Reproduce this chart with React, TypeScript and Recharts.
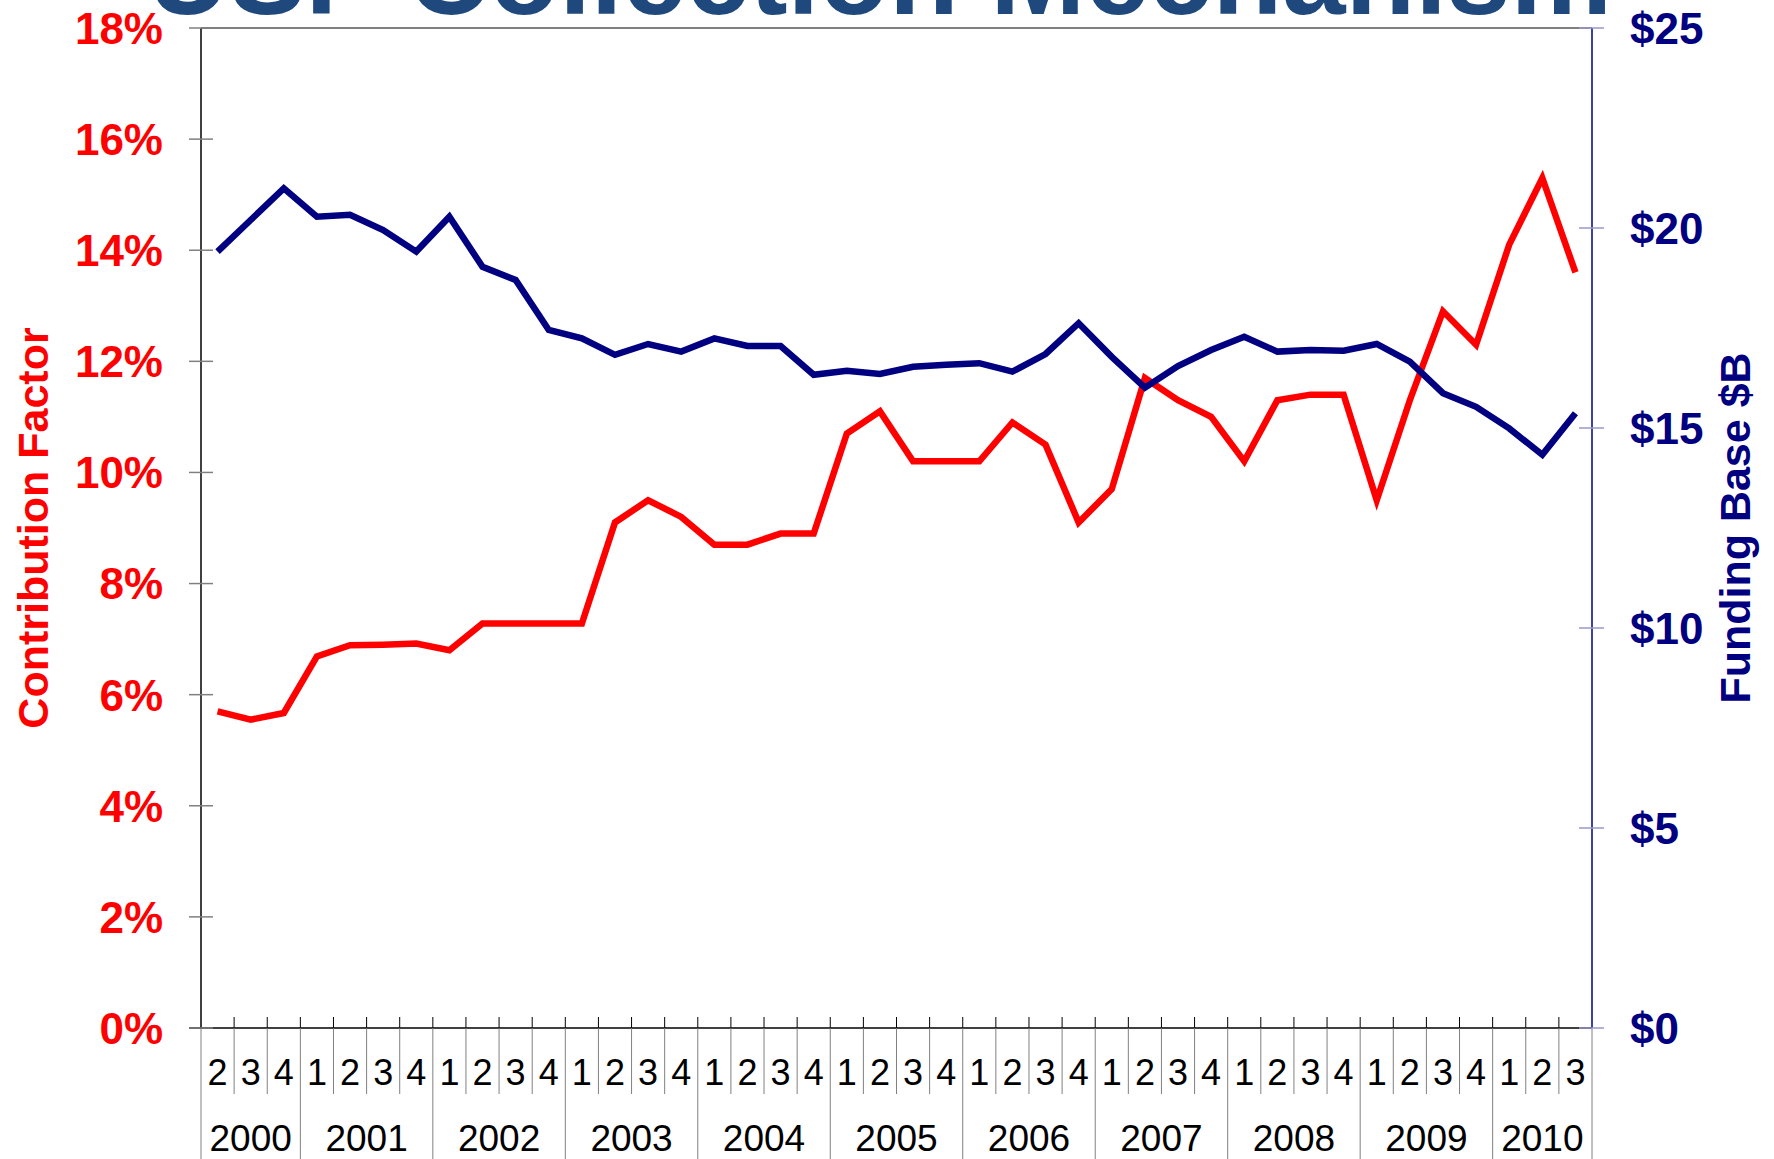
import { LineChart, Line, XAxis, YAxis, ReferenceLine } from "recharts";

const quarterLabels = [
  "2", "3", "4",
  "1", "2", "3", "4",
  "1", "2", "3", "4",
  "1", "2", "3", "4",
  "1", "2", "3", "4",
  "1", "2", "3", "4",
  "1", "2", "3", "4",
  "1", "2", "3", "4",
  "1", "2", "3", "4",
  "1", "2", "3", "4",
  "1", "2", "3",
];
const yearLabels = ["2000", "2001", "2002", "2003", "2004", "2005", "2006", "2007", "2008", "2009", "2010"];
const quartersPerYear = [3, 4, 4, 4, 4, 4, 4, 4, 4, 4, 3];

// contribution factor, %
const contributionFactor = [
  5.7, 5.55, 5.67,
  6.69, 6.89, 6.9, 6.92,
  6.8, 7.28, 7.28, 7.28,
  7.28, 9.1, 9.5, 9.2,
  8.7, 8.7, 8.9, 8.9,
  10.7, 11.1, 10.2, 10.2,
  10.2, 10.9, 10.5, 9.1,
  9.7, 11.7, 11.3, 11.0,
  10.2, 11.3, 11.4, 11.4,
  9.5, 11.3, 12.9, 12.3,
  14.1, 15.3, 13.6,
];

// funding base, $B
const fundingBase = [
  19.41, 20.2, 20.99,
  20.28, 20.33, 19.95, 19.41,
  20.28, 19.03, 18.7, 17.45,
  17.24, 16.83, 17.1, 16.91,
  17.24, 17.05, 17.05, 16.33,
  16.43, 16.35, 16.53, 16.58,
  16.62, 16.41, 16.85, 17.62,
  16.78, 16.01, 16.55, 16.95,
  17.28, 16.91, 16.95, 16.93,
  17.1, 16.66, 15.87, 15.53,
  14.99, 14.33, 15.37,
];

const leftTicks = [0, 2, 4, 6, 8, 10, 12, 14, 16, 18];
const rightTicks = [0, 5, 10, 15, 20, 25];

const W = 1774;
const H = 1159;
const PLOT_LEFT = 201;
const PLOT_RIGHT = 1592;
const PLOT_TOP = 28;
const PLOT_BOTTOM = 1028;
const BAND = (PLOT_RIGHT - PLOT_LEFT) / quarterLabels.length;
const FONT = "'Liberation Sans', Arial, sans-serif";

// index of first quarter -> year index
const yearStart: Record<number, number> = {};
let pos = 0;
quartersPerYear.forEach((n, yi) => {
  yearStart[pos] = yi;
  pos += n;
});

const data = quarterLabels.map((q, i) => ({
  key: `k${i}`,
  cf: contributionFactor[i],
  fb: fundingBase[i],
}));

function QuarterTick(props: any) {
  const { x, payload } = props;
  const i = props.index ?? payload.index;
  const y = PLOT_BOTTOM;
  const left = x - BAND / 2;
  const right = x + BAND / 2;
  const yi = yearStart[i];
  const last = i === quarterLabels.length - 1;
  return (
    <g>
      {i > 0 && <line x1={left} x2={left} y1={y - 11} y2={y} stroke="#000" />}
      {yi !== undefined ? (
        <line x1={left} x2={left} y1={y} y2={H} stroke="#808080" />
      ) : (
        <line x1={left} x2={left} y1={y} y2={y + 66} stroke="#808080" />
      )}
      {last && <line x1={right} x2={right} y1={y} y2={H} stroke="#808080" />}
      {i === 0 && <line x1={left - 12} x2={left} y1={y} y2={y} stroke="#000" strokeWidth={1.5} />}
      <text x={x} y={y + 57} textAnchor="middle" fontFamily={FONT} fontSize={36} fill="#000">
        {quarterLabels[i]}
      </text>
      {yi !== undefined && (
        <text
          x={left + (quartersPerYear[yi] * BAND) / 2}
          y={y + 123}
          textAnchor="middle"
          fontFamily={FONT}
          fontSize={37}
          fill="#000"
        >
          {yearLabels[yi]}
        </text>
      )}
    </g>
  );
}

function LeftTick(props: any) {
  const { y, payload } = props;
  return (
    <g>
      <line x1={PLOT_LEFT - 12} x2={PLOT_LEFT + 12} y1={y} y2={y} stroke="#808080" strokeWidth={1.5} />
      <text x={PLOT_LEFT - 38} y={y} dy="0.36em" textAnchor="end" fontFamily={FONT} fontWeight="bold" fontSize={44} fill="#FF0000">
        {`${payload.value}%`}
      </text>
    </g>
  );
}

function RightTick(props: any) {
  const { y, payload } = props;
  return (
    <g>
      <line x1={PLOT_RIGHT - 13} x2={PLOT_RIGHT + 12} y1={y} y2={y} stroke="#9999CC" strokeWidth={1.5} />
      <text x={PLOT_RIGHT + 38} y={y} dy="0.36em" textAnchor="start" fontFamily={FONT} fontWeight="bold" fontSize={44} fill="#000080">
        {`$${payload.value}`}
      </text>
    </g>
  );
}

export default function App() {
  return (
    <div style={{ position: "fixed", left: 0, top: 0, width: W, height: H, background: "#fff", overflow: "hidden" }}>
      <LineChart
        width={W}
        height={H}
        data={data}
        margin={{ top: PLOT_TOP, right: 0, bottom: 0, left: 0 }}
      >
        <XAxis
          dataKey="key"
          height={H - PLOT_BOTTOM}
          interval={0}
          padding={{ left: BAND / 2, right: BAND / 2 }}
          tickSize={0}
          tickMargin={0}
          tickLine={false}
          axisLine={{ stroke: "#000", strokeWidth: 1.5 }}
          tick={<QuarterTick />}
        />
        <YAxis
          yAxisId="left"
          width={PLOT_LEFT}
          domain={[0, 18]}
          ticks={leftTicks}
          interval={0}
          tickSize={0}
          tickLine={false}
          axisLine={{ stroke: "#000", strokeWidth: 1.5 }}
          tick={<LeftTick />}
        />
        <YAxis
          yAxisId="right"
          orientation="right"
          width={W - PLOT_RIGHT}
          domain={[0, 25]}
          ticks={rightTicks}
          interval={0}
          tickSize={0}
          tickLine={false}
          axisLine={{ stroke: "#000080", strokeWidth: 1.5 }}
          tick={<RightTick />}
        />
        <ReferenceLine yAxisId="left" y={18} stroke="#808080" strokeWidth={2} />
        <Line
          yAxisId="left"
          type="linear"
          dataKey="cf"
          stroke="#FF0000"
          strokeWidth={6.5}
          dot={false}
          isAnimationActive={false}
        />
        <Line
          yAxisId="right"
          type="linear"
          dataKey="fb"
          stroke="#000080"
          strokeWidth={6.5}
          dot={false}
          isAnimationActive={false}
        />
      </LineChart>
      <svg width={W} height={H} style={{ position: "absolute", left: 0, top: 0, pointerEvents: "none" }}>
        <text
          x={147}
          y={14}
          fontFamily={FONT}
          fontWeight="bold"
          fontSize={116}
          fill="#1F497D"
          textLength={1465}
          lengthAdjust="spacingAndGlyphs"
        >
          USF Collection Mechanism
        </text>
        <text
          transform="translate(48,528) rotate(-90)"
          textAnchor="middle"
          fontFamily={FONT}
          fontWeight="bold"
          fontSize={43}
          fill="#FF0000"
        >
          Contribution Factor
        </text>
        <text
          transform="translate(1750,528) rotate(-90)"
          textAnchor="middle"
          fontFamily={FONT}
          fontWeight="bold"
          fontSize={43}
          fill="#000080"
        >
          Funding Base $B
        </text>
      </svg>
    </div>
  );
}
